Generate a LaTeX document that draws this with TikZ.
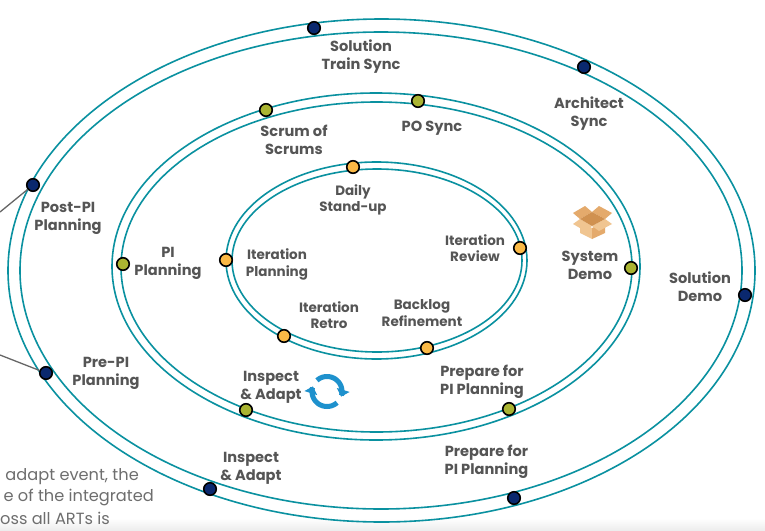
\documentclass[tikz,border=0pt]{standalone}
\usepackage{fontspec}
\setmainfont{Poppins}
\usetikzlibrary{arrows.meta}
\definecolor{ringteal}{RGB}{10,145,160}
\definecolor{labelgray}{RGB}{85,85,85}
\definecolor{dotnavy}{RGB}{10,40,110}
\definecolor{dotolive}{RGB}{170,180,50}
\definecolor{dotorange}{RGB}{250,185,70}
\definecolor{cycleblue}{RGB}{30,145,205}
\definecolor{boxlight}{RGB}{240,197,145}
\definecolor{boxmid}{RGB}{228,170,108}
\definecolor{boxdark}{RGB}{208,145,80}
\begin{document}
\begin{tikzpicture}[x=1pt,y=-1pt]

\tikzset{ring/.style={draw=ringteal, line width=1.6pt},
  ringdot/.style={circle, draw=black, line width=1.6pt, minimum size=12.5pt, inner sep=0pt},
  navydot/.style={ringdot, fill=dotnavy},
  olivedot/.style={ringdot, fill=dotolive},
  orangedot/.style={ringdot, fill=dotorange},
  biglabel/.style={text=labelgray, font=\fontsize{14.6}{18}\selectfont\bfseries, align=center, inner sep=0pt},
  smalllabel/.style={text=labelgray, font=\fontsize{13.5}{16.3}\selectfont\bfseries, align=center, inner sep=0pt},
  notetext/.style={text=labelgray!85, font=\fontsize{16.2}{17}\selectfont, anchor=east, inner sep=0pt},
  feedline/.style={draw=labelgray!90, line width=1.3pt},
  cyclearrow/.style={draw=cycleblue, line width=5pt, -{Triangle[length=7pt,width=13pt]}}
}

\useasboundingbox (0,0) rectangle (765,530);
\fill[white] (0,0) rectangle (765,530);
\shade[top color=white, bottom color=black!7] (0,518) rectangle (765,530);

% rings
\draw[ring] (381.5,270.5) ellipse (373.5 and 251.5);
\draw[ring] (381,270.5) ellipse (361 and 238.5);
\draw[ring] (376,266.5) ellipse (264 and 173.5);
\draw[ring] (376.5,267) ellipse (255.5 and 165);
\draw[ring] (376.5,260.5) ellipse (150.5 and 98.5);
\draw[ring] (377,260.5) ellipse (145 and 91.5);

% outer dots
\node[navydot] (trainsync) at (314,28) {};
\node[navydot] (archsync) at (584,67) {};
\node[navydot] (soldemo) at (745,295) {};
\node[navydot] (solprep) at (514,498) {};
\node[navydot] (solia) at (210,489) {};
\node[navydot] (prepi) at (46,373) {};
\node[navydot] (postpi) at (33,185) {};

% lines from outside
\coordinate (postfree) at (0,212);
\coordinate (prefree) at (0,355);
\draw[feedline] (postfree) -- (postpi);
\draw[feedline] (prefree) -- (prepi);

% middle dots
\node[olivedot] (scrum) at (266,110) {};
\node[olivedot] (posync) at (418,101) {};
\node[olivedot] (sysdemo) at (631,268) {};
\node[olivedot] (artprep) at (509,409) {};
\node[olivedot] (artia) at (246,410) {};
\node[olivedot] (pipl) at (123,264) {};

% inner dots
\node[orangedot] (standup) at (353,167) {};
\node[orangedot] (review) at (520,248) {};
\node[orangedot] (refine) at (427,348) {};
\node[orangedot] (retro) at (284,336) {};
\node[orangedot] (plan) at (226,260) {};

% labels
\node[biglabel] (l1) at (361,57) {Solution\\Train Sync};
\node[biglabel] (l2) at (589,114) {Architect\\Sync};
\node[biglabel] (l3) at (700,287) {Solution\\Demo};
\node[biglabel] (l4) at (486.5,462) {Prepare for\\PI Planning};
\node[biglabel] (l5) at (251,468) {Inspect\\\& Adapt};
\node[biglabel] (l6) at (106,373.5) {Pre-PI\\Planning};
\node[biglabel] (l7) at (68,218) {Post-PI\\Planning};
\node[biglabel] (l8) at (294,140) {Scrum of\\Scrums};
\node[biglabel] (l9) at (432,128) {PO Sync};
\node[biglabel] (l10) at (590,265) {System\\Demo};
\node[biglabel] (l11) at (482,382) {Prepare for\\PI Planning};
\node[biglabel] (l12) at (271,387) {Inspect\\\& Adapt};
\node[biglabel] (l13) at (168,263) {PI\\Planning};
\node[smalllabel] (l14) at (353,200) {Daily\\Stand-up};
\node[smalllabel] (l15) at (475,248) {Iteration\\Review};
\node[smalllabel] (l16) at (422,313) {Backlog\\Refinement};
\node[smalllabel] (l17) at (329,315) {Iteration\\Retro};
\node[smalllabel] (l18) at (277,264.5) {Iteration\\Planning};

% box icon
\fill[boxlight] (580,222) -- (592,228) -- (592,239) -- (580,233) -- cycle;
\fill[boxmid] (592,228) -- (605,222) -- (605,233) -- (592,239) -- cycle;
\fill[boxmid] (573,213) -- (585,206) -- (592,212) -- (580,219) -- cycle;
\fill[boxmid] (592,212) -- (599,206) -- (612,213) -- (605,219) -- cycle;
\fill[boxlight] (573,224) -- (580,219) -- (592,226) -- (585,231) -- cycle;
\fill[boxlight] (612,224) -- (605,219) -- (592,226) -- (599,231) -- cycle;
\fill[boxdark] (580,219) -- (592,212) -- (605,219) -- (592,226) -- cycle;

% cycle icon
\draw[cyclearrow] plot[domain=228:380, samples=30] ({327+15*cos(\x)},{391.5+15*sin(\x)});
\draw[cyclearrow] plot[domain=48:200, samples=30] ({327+15*cos(\x)},{391.5+15*sin(\x)});

% cut off text
\node[notetext] (note1) at (139,477) {adapt event, the};
\node[notetext] (note2) at (154,497) {e of the integrated};
\node[notetext] (note3) at (110,518) {oss all ARTs is};

\end{tikzpicture}
\end{document}
